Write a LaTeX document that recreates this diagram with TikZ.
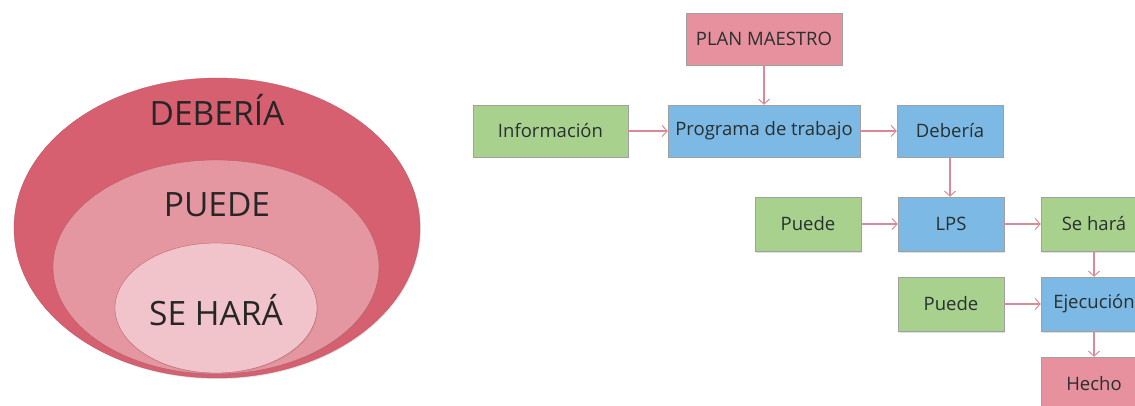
\documentclass[tikz,border=0pt]{standalone}
\usepackage{fontspec}
\setmainfont{Open Sans}
\usetikzlibrary{arrows.meta,shadows}

\definecolor{rosaA}{RGB}{215,96,112}
\definecolor{rosaB}{RGB}{229,151,161}
\definecolor{rosaC}{RGB}{240,196,202}
\definecolor{verde}{RGB}{169,209,142}
\definecolor{azul}{RGB}{124,185,228}
\definecolor{rosaCaja}{RGB}{230,145,157}
\definecolor{flecha}{RGB}{218,138,150}
\definecolor{borde}{RGB}{160,160,160}
\definecolor{texto}{RGB}{40,48,48}

\tikzset{
  capa/.style={draw=rosaA!85!black, line width=0.3pt, drop shadow={shadow xshift=0.8pt, shadow yshift=-1.2pt, opacity=0.2}},
  capatexto/.style={font=\fontsize{33.5}{34}\selectfont, text=black!85},
  caja/.style={draw=borde, line width=0.5pt, inner sep=0pt, minimum height=52pt,
    font=\fontsize{18.5}{20}\selectfont, text=texto,
    drop shadow={shadow xshift=1pt, shadow yshift=-1.5pt, opacity=0.25}},
  cajaverde/.style={caja, fill=verde},
  cajaazul/.style={caja, fill=azul},
  cajarosa/.style={caja, fill=rosaCaja},
  flujo/.style={draw=flecha, line width=1.2pt, -{Straight Barb[length=5pt, width=11pt, line width=1pt]}}
}

\begin{document}
\begin{tikzpicture}[x=1pt, y=-1pt]
  \useasboundingbox (0,0) rectangle (1135,406);
  \clip (0,0) rectangle (1135,406);
  \fill[white] (0,0) rectangle (1135,406);

  % nested levels
  \path[capa, fill=rosaA] (217,228) ellipse [x radius=203, y radius=150];
  \path[capa, fill=rosaB] (216,267) ellipse [x radius=163, y radius=107];
  \path[capa, fill=rosaC] (216,308) ellipse [x radius=101, y radius=65];
  \node[capatexto] (tdeberia) at (217,110) {DEBERÍA};
  \node[capatexto] (tpuede) at (217,205) {PUEDE};
  \node[capatexto] (tsehara) at (216,310) {SE HARÁ};

  % planning flow
  \node[cajarosa, minimum width=156pt] (plan) at (764,39) {PLAN MAESTRO};
  \node[cajaverde, minimum width=155pt] (info) at (550.5,131) {Información};
  \node[cajaazul, minimum width=192pt] (prog) at (764,131) {Programa de trabajo};
  \node[cajaazul, minimum width=106pt] (deb) at (950,131) {Debería};
  \node[cajaverde, minimum width=106pt, minimum height=54pt] (puede1) at (808,224) {Puede};
  \node[cajaazul, minimum width=106pt, minimum height=54pt] (lps) at (951,224) {LPS};
  \node[cajaverde, minimum width=106pt, minimum height=54pt] (sehara) at (1094,224) {Se hará};
  \node[cajaverde, minimum width=106pt, minimum height=54pt] (puede2) at (951,304) {Puede};
  \node[cajaazul, minimum width=106pt, minimum height=54pt] (ejec) at (1094,304) {Ejecución};
  \node[cajarosa, minimum width=106pt, minimum height=54pt] (hecho) at (1094,384) {Hecho};

  \draw[flujo] (plan) -- (prog);
  \draw[flujo] (info) -- (prog);
  \draw[flujo] (prog) -- (deb);
  \draw[flujo] (deb) -- (deb |- lps.north);
  \draw[flujo] (puede1) -- (lps);
  \draw[flujo] (lps) -- (sehara);
  \draw[flujo] (sehara) -- (ejec);
  \draw[flujo] (puede2) -- (ejec);
  \draw[flujo] (ejec) -- (hecho);
\end{tikzpicture}
\end{document}
